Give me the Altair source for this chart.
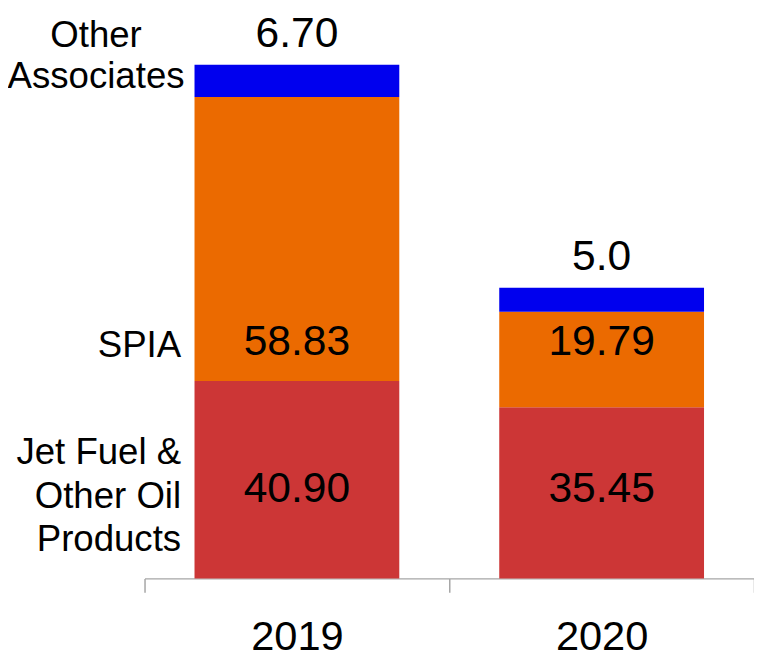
import altair as alt
import pandas as pd

years = ["2019", "2020"]
categories = ["Jet Fuel & Other Oil Products", "SPIA", "Other Associates"]
jet_fuel = [40.90, 35.45]
spia = [58.83, 19.79]
other = [6.70, 5.0]
jet_labels = ["40.90", "35.45"]
spia_labels = ["58.83", "19.79"]
other_labels = ["6.70", "5.0"]
legend_lines = [["Jet Fuel &", "Other Oil", "Products"], ["SPIA"], ["Other", "Associates"]]
colors = ["#CC3636", "#EB6A00", "#0000EE"]

FONT = "Liberation Sans"

series = [jet_fuel, spia, other]
label_series = [jet_labels, spia_labels, other_labels]

rows = []
for yi, yr in enumerate(years):
    base = 0.0
    for ci, cat in enumerate(categories):
        v = series[ci][yi]
        rows.append({"year": yr, "category": cat, "start": base, "end": base + v,
                     "label": label_series[ci][yi]})
        base += v
df = pd.DataFrame(rows)

# label row: centre of the overlap of a category's segments across years
row_mid = {}
for cat in categories:
    sub = df[df.category == cat]
    row_mid[cat] = (sub.start.max() + sub.end.min()) / 2
df["row"] = df.category.map(row_mid)

inner = df[df.category != "Other Associates"]
top = df[df.category == "Other Associates"]

jet_df = pd.DataFrame({"text": [legend_lines[0]], "row": [row_mid[categories[0]]]})
spia_df = pd.DataFrame({"text": [legend_lines[1][0]], "row": [row_mid[categories[1]]]})
first_total = top[top.year == years[0]]
oa_df = pd.DataFrame({"text": [legend_lines[2]], "end": [first_total.end.iloc[0]]})

x = alt.X("year:N", sort=years, title=None,
          scale=alt.Scale(paddingInner=0, paddingOuter=0),
          axis=alt.Axis(labelAngle=0, labelFont=FONT, labelFontSize=42, labelColor="#000000",
                        domainColor="#A6A6A6", tickColor="#A6A6A6", tickSize=14,
                        tickBand="extent", labelPadding=25, domainWidth=1.5, tickWidth=1.5,
                        grid=False))
yscale = alt.Scale(domain=[0, 116.65], nice=False)

bars = alt.Chart(df).mark_bar(width={"band": 0.672}).encode(
    x=x,
    y=alt.Y("start:Q", scale=yscale, axis=None),
    y2="end:Q",
    color=alt.Color("category:N", scale=alt.Scale(domain=categories, range=colors), legend=None),
)

values = alt.Chart(inner).mark_text(font=FONT, fontSize=43, color="#000000", baseline="middle", dy=-4).encode(
    x=alt.X("year:N", sort=years),
    y=alt.Y("row:Q", scale=yscale),
    text="label:N",
)

tops = alt.Chart(top).mark_text(font=FONT, fontSize=43, color="#000000", baseline="alphabetic", dy=-18).encode(
    x=alt.X("year:N", sort=years),
    y=alt.Y("end:Q", scale=yscale),
    text="label:N",
)

jet_txt = alt.Chart(jet_df).mark_text(font=FONT, fontSize=37, color="#000000", align="right",
                                      baseline="middle", lineHeight=44, dy=-40).encode(
    x=alt.value(37),
    y=alt.Y("row:Q", scale=yscale),
    text="text",
)

spia_txt = alt.Chart(spia_df).mark_text(font=FONT, fontSize=37, color="#000000", align="right",
                                        baseline="middle").encode(
    x=alt.value(37),
    y=alt.Y("row:Q", scale=yscale),
    text="text:N",
)

oa_txt = alt.Chart(oa_df).mark_text(font=FONT, fontSize=37, color="#000000", align="center",
                                    baseline="alphabetic", lineHeight=42, dy=-18).encode(
    x=alt.value(-49),
    y=alt.Y("end:Q", scale=yscale),
    text="text",
)

chart = alt.layer(bars, values, tops, jet_txt, spia_txt, oa_txt).properties(
    width=616, height=569,
    autosize=alt.AutoSizeParams(type="none"),
    padding={"left": 138, "top": 4, "right": 0, "bottom": 80},
).configure(background="#FFFFFF").configure_view(stroke=None)

chart.save("out.html", embed_options={"renderer": "svg", "actions": False})
